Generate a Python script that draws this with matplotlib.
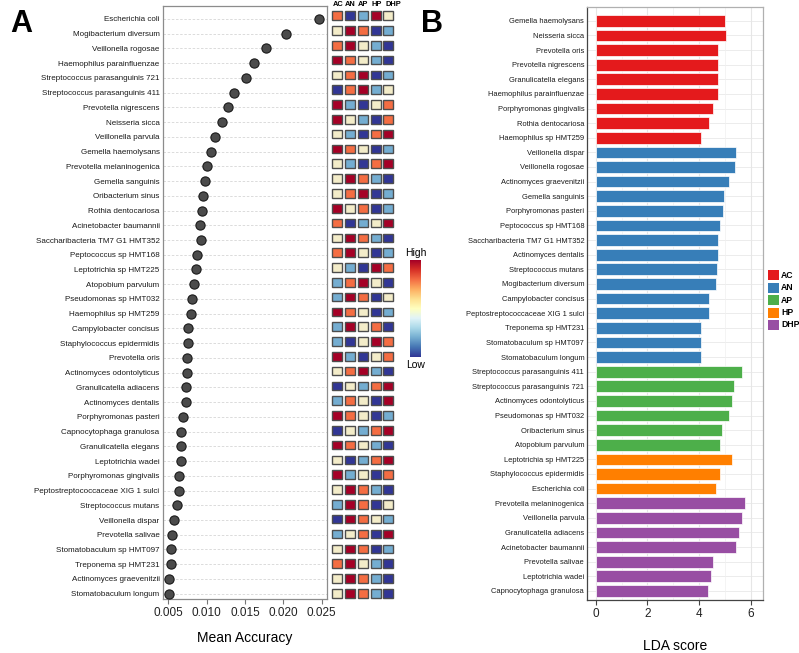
import matplotlib
matplotlib.use('Agg')
import matplotlib.pyplot as plt
from matplotlib.patches import Rectangle
import numpy as np

plt.rcParams['font.family'] = 'Liberation Sans'

# ---------------------------------------------------------------------------
#   panel A: mean accuracy (top to bottom)
# ---------------------------------------------------------------------------
species_a = ['Escherichia coli', 'Mogibacterium diversum', 'Veillonella rogosae',
             'Haemophilus parainfluenzae', 'Streptococcus parasanguinis 721',
             'Streptococcus parasanguinis 411', 'Prevotella nigrescens', 'Neisseria sicca',
             'Veillonella parvula', 'Gemella haemolysans', 'Prevotella melaninogenica',
             'Gemella sanguinis', 'Oribacterium sinus', 'Rothia dentocariosa',
             'Acinetobacter baumannii', 'Saccharibacteria TM7 G1 HMT352',
             'Peptococcus sp HMT168', 'Leptotrichia sp HMT225', 'Atopobium parvulum',
             'Pseudomonas sp HMT032', 'Haemophilus sp HMT259', 'Campylobacter concisus',
             'Staphylococcus epidermidis', 'Prevotella oris', 'Actinomyces odontolyticus',
             'Granulicatella adiacens', 'Actinomyces dentalis', 'Porphyromonas pasteri',
             'Capnocytophaga granulosa', 'Granulicatella elegans', 'Leptotrichia wadei',
             'Porphyromonas gingivalis', 'Peptostreptococcaceae XIG 1 sulci',
             'Streptococcus mutans', 'Veillonella dispar', 'Prevotella salivae',
             'Stomatobaculum sp HMT097', 'Treponema sp HMT231', 'Actinomyces graevenitzii',
             'Stomatobaculum longum']
accuracy = [0.0247, 0.0204, 0.0178, 0.0162, 0.0151, 0.0136, 0.0128, 0.0120, 0.0111,
            0.0106, 0.0101, 0.0098, 0.0095, 0.0094, 0.0091, 0.0092, 0.0088, 0.0086,
            0.0084, 0.0081, 0.0079, 0.0076, 0.0076, 0.0074, 0.0074, 0.0073, 0.0073,
            0.0069, 0.0066, 0.0066, 0.0066, 0.0064, 0.0064, 0.0061, 0.0058, 0.0055,
            0.0054, 0.0053, 0.0051, 0.0051]

# relative abundance rank per group (1 = low ... 5 = high)
groups = ['AC', 'AN', 'AP', 'HP', 'DHP']
ranks = [[4, 1, 2, 5, 3], [3, 5, 4, 1, 2], [4, 5, 3, 2, 1], [5, 4, 3, 2, 1],
         [3, 4, 5, 1, 2], [1, 4, 5, 2, 3], [5, 2, 1, 3, 4], [5, 3, 2, 1, 4],
         [3, 2, 1, 4, 5], [5, 4, 3, 1, 2], [3, 2, 1, 4, 5], [3, 5, 4, 2, 1],
         [3, 4, 5, 1, 2], [5, 3, 4, 1, 2], [4, 1, 2, 3, 5], [3, 5, 4, 2, 1],
         [4, 5, 3, 1, 2], [3, 2, 1, 5, 4], [2, 4, 5, 3, 1], [2, 5, 4, 1, 3],
         [5, 4, 3, 1, 2], [2, 5, 3, 4, 1], [2, 1, 3, 5, 4], [5, 2, 1, 3, 4],
         [3, 4, 5, 2, 1], [1, 3, 2, 4, 5], [2, 4, 3, 1, 5], [5, 4, 3, 1, 2],
         [1, 3, 2, 4, 5], [5, 4, 3, 2, 1], [3, 1, 2, 4, 5], [5, 2, 3, 1, 4],
         [3, 5, 4, 2, 1], [2, 5, 4, 1, 3], [1, 5, 4, 3, 2], [2, 3, 4, 1, 5],
         [3, 5, 4, 1, 2], [4, 5, 3, 2, 1], [3, 5, 4, 2, 1], [3, 5, 4, 2, 1]]
rank_colors = ['#313695', '#74add1', '#f3ecc9', '#f46d43', '#a50026']

# ---------------------------------------------------------------------------
#   panel B: LDA score (top to bottom)
# ---------------------------------------------------------------------------
species_b = ['Gemella haemolysans', 'Neisseria sicca', 'Prevotella oris',
             'Prevotella nigrescens', 'Granulicatella elegans', 'Haemophilus parainfluenzae',
             'Porphyromonas gingivalis', 'Rothia dentocariosa', 'Haemophilus sp HMT259',
             'Veillonella dispar', 'Veillonella rogosae', 'Actinomyces graevenitzii',
             'Gemella sanguinis', 'Porphyromonas pasteri', 'Peptococcus sp HMT168',
             'Saccharibacteria TM7 G1 HMT352', 'Actinomyces dentalis', 'Streptococcus mutans',
             'Mogibacterium diversum', 'Campylobacter concisus',
             'Peptostreptococcaceae XIG 1 sulci', 'Treponema sp HMT231',
             'Stomatobaculum sp HMT097', 'Stomatobaculum longum',
             'Streptococcus parasanguinis 411', 'Streptococcus parasanguinis 721',
             'Actinomyces odontolyticus', 'Pseudomonas sp HMT032', 'Oribacterium sinus',
             'Atopobium parvulum', 'Leptotrichia sp HMT225', 'Staphylococcus epidermidis',
             'Escherichia coli', 'Prevotella melaninogenica', 'Veillonella parvula',
             'Granulicatella adiacens', 'Acinetobacter baumannii', 'Prevotella salivae',
             'Leptotrichia wadei', 'Capnocytophaga granulosa']
lda_score = [4.99, 5.03, 4.73, 4.73, 4.73, 4.71, 4.52, 4.39, 4.05,
             5.40, 5.38, 5.16, 4.97, 4.90, 4.81, 4.72, 4.72, 4.68, 4.64, 4.39, 4.39,
             4.05, 4.05, 4.07,
             5.64, 5.34, 5.28, 5.13, 4.86, 4.79,
             5.25, 4.79, 4.66,
             5.78, 5.66, 5.54, 5.42, 4.54, 4.44, 4.35]
lda_group = ['AC'] * 9 + ['AN'] * 15 + ['AP'] * 6 + ['HP'] * 3 + ['DHP'] * 7
group_colors = {'AC': '#e41a1c', 'AN': '#377eb8', 'AP': '#4daf4a',
                'HP': '#ff7f00', 'DHP': '#984ea3'}

W, H = 799, 653
fig = plt.figure(figsize=(W / 100, H / 100), dpi=100)


def px_axes(x0, y0, x1, y1):
    return fig.add_axes([x0 / W, 1 - y1 / H, (x1 - x0) / W, (y1 - y0) / H])


# ---------------------------------------------------------------------------
#   A: dot plot
# ---------------------------------------------------------------------------
ax = px_axes(163, 6, 327, 599)
ya = np.arange(len(species_a))
for yi in ya:
    ax.axhline(yi, ls=(0, (3, 2)), color='#d6d6d6', lw=0.6, zorder=0)
ax.scatter(accuracy, ya, s=44, c='#4b4b4b', edgecolors='#1a1a1a', linewidths=0.8, zorder=3)
ax.set_xlim(0.0043, 0.0257)
ax.set_ylim(39.36, -0.88)
ax.set_xticks([0.005, 0.010, 0.015, 0.020, 0.025])
ax.set_xticklabels(['0.005', '0.010', '0.015', '0.020', '0.025'], fontsize=8.5, color='#222222')
ax.set_yticks(ya)
ax.set_yticklabels(species_a, fontsize=5.8, color='#1a1a1a')
ax.tick_params(axis='y', length=0, pad=2.5)
ax.tick_params(axis='x', length=3.5, width=0.8, color='#777777', pad=2)
for s in ax.spines.values():
    s.set_color('#8c8c8c')
    s.set_linewidth(0.9)
ax.set_xlabel('Mean Accuracy', fontsize=10, labelpad=9)

# heatmap of ranks
axh = px_axes(330, 6, 396, 599)
axh.set_xlim(-0.573, 4.604)
axh.set_ylim(39.39, -0.655)
axh.axis('off')
for i, row in enumerate(ranks):
    for j, r in enumerate(row):
        axh.add_patch(Rectangle((j - 0.39, i - 0.29), 0.78, 0.58, facecolor=rank_colors[r - 1],
                                edgecolor='#4d4d4d', lw=1.0, clip_on=False))
# header positions nudged a little to the right like the original
header_x = [0.08, 0.04, 0.04, 0.08, 0.38]
for j, g in enumerate(groups):
    axh.text(j + header_x[j], -0.75, g, ha='center', va='center', fontsize=5.4,
             fontweight='bold', clip_on=False)

# colour key
axc = px_axes(410, 260, 421, 357)
axc.imshow(np.linspace(1, 0, 256)[:, None], cmap='RdYlBu_r', aspect='auto')
axc.set_xticks([])
axc.set_yticks([])
for s in axc.spines.values():
    s.set_visible(False)
fig.text(416 / W, 1 - 253 / H, 'High', fontsize=7.5, ha='center', va='center')
fig.text(416 / W, 1 - 365 / H, 'Low', fontsize=7.5, ha='center', va='center')

# ---------------------------------------------------------------------------
#   B: LDA bars
# ---------------------------------------------------------------------------
axb = px_axes(587, 7, 763, 600)
yb = np.arange(len(species_b))
bar_colors = [group_colors[g] for g in lda_group]
axb.barh(yb, lda_score, height=0.8, color=bar_colors, edgecolor='#ffffff', lw=0.5, zorder=2)
for yi in yb:
    axb.axhline(yi, color='#ececec', lw=0.7, zorder=0)
axb.set_xlim(-0.336, 6.46)
axb.set_ylim(39.62, -0.944)
axb.set_xticks([0, 2, 4, 6])
axb.set_xticks([1, 3, 5], minor=True)
axb.grid(axis='x', which='major', color='#e6e6e6', lw=0.8, zorder=0)
axb.grid(axis='x', which='minor', color='#f0f0f0', lw=0.5, zorder=0)
axb.set_axisbelow(True)
axb.set_xticklabels(['0', '2', '4', '6'], fontsize=8.5, color='#222222')
axb.set_yticks(yb)
axb.set_yticklabels(species_b, fontsize=5.4, color='#1a1a1a')
axb.tick_params(axis='y', length=0, pad=2)
axb.tick_params(axis='x', which='major', length=3.5, width=0.8, color='#444444', pad=2)
axb.tick_params(axis='x', which='minor', length=0)
for k in ['top', 'right']:
    axb.spines[k].set_color('#b0b0b0')
for k in ['left', 'bottom']:
    axb.spines[k].set_color('#444444')
for s in axb.spines.values():
    s.set_linewidth(0.9)
axb.set_xlabel('LDA score', fontsize=10, labelpad=14)

# legend for groups
for k, g in enumerate(groups):
    yc = 275 + 12.5 * k
    fig.add_artist(Rectangle((768 / W, 1 - (yc + 5) / H), 11 / W, 10 / H,
                             facecolor=group_colors[g], edgecolor='none',
                             transform=fig.transFigure))
    fig.text(781 / W, 1 - yc / H, g, fontsize=6.2, fontweight='bold',
             ha='left', va='center')

fig.text(21 / W, 1 - 24 / H, 'A', fontsize=22, fontweight='bold', ha='center', va='center')
fig.text(432 / W, 1 - 24 / H, 'B', fontsize=22, fontweight='bold', ha='center', va='center')

fig.savefig('out.png', dpi=100)
